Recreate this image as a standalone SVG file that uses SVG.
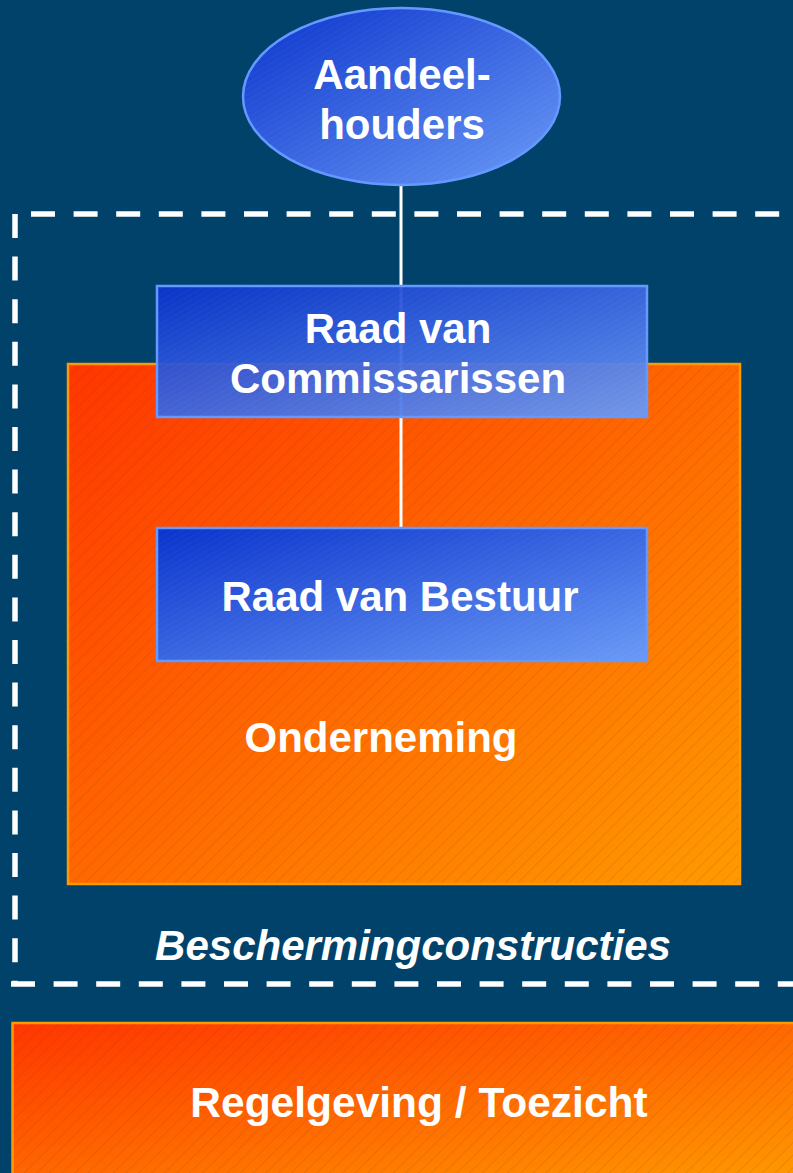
<svg xmlns="http://www.w3.org/2000/svg" width="793" height="1173" viewBox="0 0 793 1173">
<defs>
<linearGradient id="gBlue" x1="0" y1="0" x2="1" y2="1">
<stop offset="0" stop-color="#0a33cc"/>
<stop offset="1" stop-color="#6a9af6"/>
</linearGradient>
<linearGradient id="gOrange" x1="0" y1="0" x2="1" y2="1">
<stop offset="0" stop-color="#ff3600"/>
<stop offset="1" stop-color="#ff9a00"/>
</linearGradient>
<pattern id="hatch" width="9" height="9" patternUnits="userSpaceOnUse" patternTransform="rotate(-45)">
<line x1="0" y1="0" x2="9" y2="0" stroke="#553322" stroke-width="0.8" stroke-opacity="0.3"/>
</pattern>
<pattern id="hatchB" width="5" height="5" patternUnits="userSpaceOnUse" patternTransform="rotate(-30)">
<line x1="0" y1="0" x2="5" y2="0" stroke="#ffffff" stroke-width="0.6" stroke-opacity="0.12"/>
</pattern>
</defs>
<style>
.lbl{font-family:"Liberation Sans",Arial,sans-serif;font-weight:bold;font-size:42px;fill:#ffffff;text-anchor:middle}
.dash{fill:none;stroke:#ffffff;stroke-width:5.5;stroke-dasharray:24 18.6}
.blue{fill:url(#gBlue);stroke:#6699ff;stroke-width:2.5}
.orange{fill:url(#gOrange);stroke:#ff9900;stroke-width:2.5}
</style>
<rect x="0" y="0" width="793" height="1173" fill="#01426a"/>

<g id="beschermingconstructies">
<path class="dash" d="M31 214 H800"/>
<path class="dash" d="M15 214 V986"/>
<path class="dash" d="M11 984 H800"/>
<text class="lbl" x="413" y="960" font-style="italic">Beschermingconstructies</text>
</g>

<g id="regelgeving">
<rect class="orange" x="12.5" y="1023" width="790" height="160"/>
<rect x="13.5" y="1024" width="790" height="160" fill="url(#hatch)"/>
<text class="lbl" x="419" y="1117" style="font-size:42.5px">Regelgeving / Toezicht</text>
</g>

<g id="onderneming">
<rect class="orange" x="68" y="364" width="672" height="520"/>
<rect x="69" y="365" width="670" height="518" fill="url(#hatch)"/>
<text class="lbl" x="381" y="752">Onderneming</text>
</g>

<g id="connectors">
<line x1="401" y1="185" x2="401" y2="528" stroke="#ffffff" stroke-width="3"/>
</g>

<g id="aandeelhouders">
<ellipse class="blue" cx="401.5" cy="96.5" rx="158.5" ry="88.5"/>
<ellipse cx="401.5" cy="96.5" rx="157" ry="87" fill="url(#hatchB)"/>
<text class="lbl" x="402" y="89">Aandeel-</text>
<text class="lbl" x="402" y="139">houders</text>
</g>

<g id="raad-van-commissarissen">
<rect class="blue" x="157" y="286" width="490" height="131" fill-opacity="0.94"/>
<rect x="158" y="287" width="488" height="129" fill="url(#hatchB)"/>
<text class="lbl" x="398" y="343">Raad van</text>
<text class="lbl" x="398" y="393">Commissarissen</text>
</g>

<g id="raad-van-bestuur">
<rect class="blue" x="157" y="528" width="490" height="133"/>
<rect x="158" y="529" width="488" height="131" fill="url(#hatchB)"/>
<text class="lbl" x="400" y="611">Raad van Bestuur</text>
</g>
</svg>
